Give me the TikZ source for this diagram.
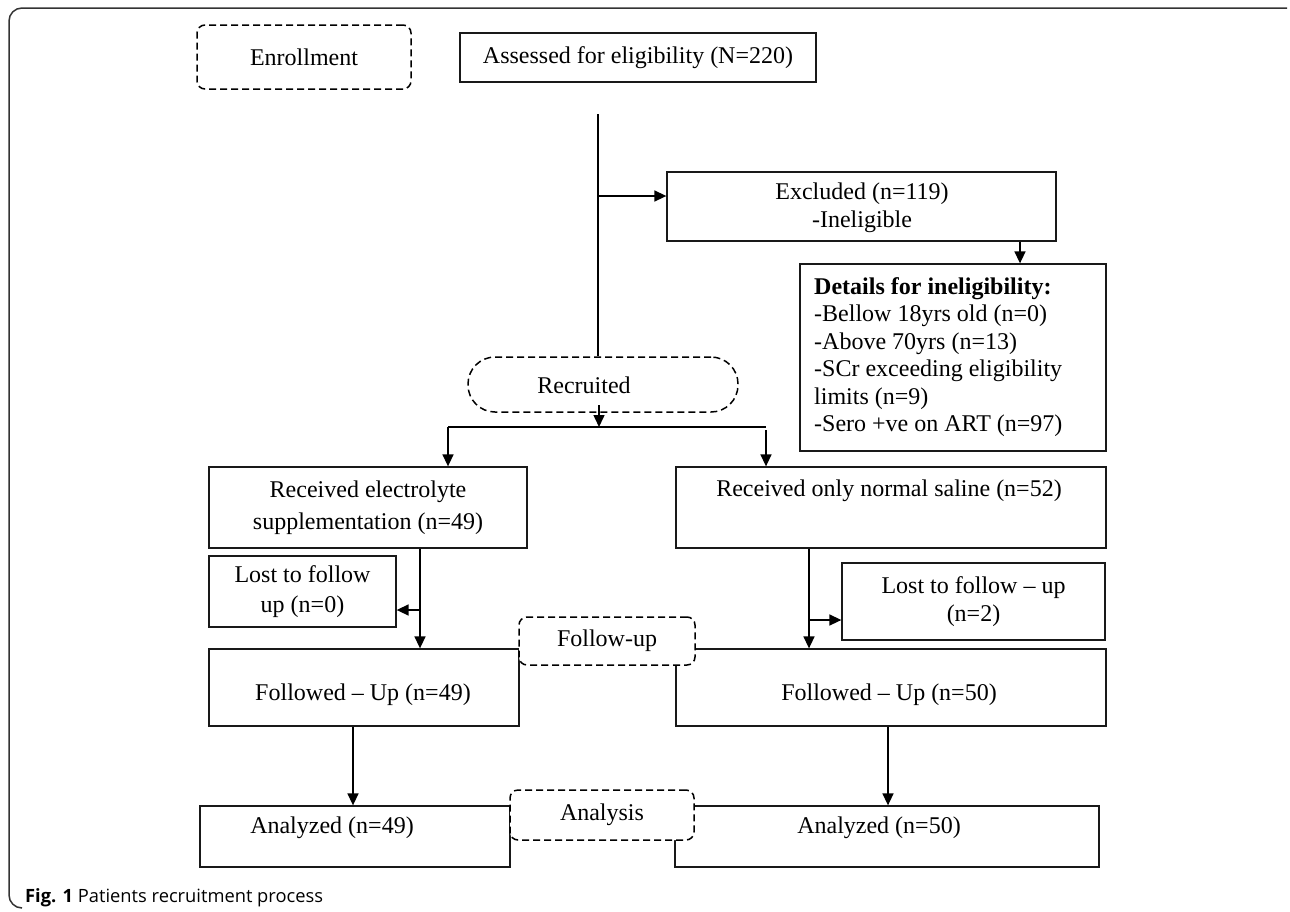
\documentclass[tikz,border=0pt]{standalone}
\usepackage{fontspec}
\setmainfont{Liberation Serif}
\newfontfamily\capfont{Open Sans}
\usetikzlibrary{arrows.meta,fit}
\begin{document}
\begin{tikzpicture}[x=1pt,y=-1pt,
  box/.style={draw=black!90, line width=1.3pt, inner sep=0pt},
  dbox/.style={draw=black, line width=1.5pt, dash pattern=on 7pt off 4pt, rounded corners=8pt, inner sep=0pt, fill=white},
  txt/.style={font=\fontsize{24}{28}\selectfont, inner sep=0pt, align=center},
  arr/.style={line width=1.5pt, draw=black, -{Triangle[length=12pt,width=11pt]}},
  con/.style={line width=1.5pt, draw=black}]
\useasboundingbox (0,0) rectangle (1290,911);
% frame
\draw[line width=1.5pt, black!80, rounded corners=13pt] (1287,8) -- (9,8) -- (9,908) -- (22,908);
% enrollment
\node[dbox, fit={(197,25) (411,89)}] (enr) {};
\node[txt] (enrt) at (enr.center) {Enrollment};
\node[box, fit={(460,33) (816,82)}] (ass) {};
\node[txt] (asst) at (ass.center) {Assessed for eligibility (N=220)};
% excluded
\node[box, fit={(667,172) (1056,241)}] (exc) {};
\node[txt] (exct) at (862,208) {Excluded (n=119)\\-Ineligible};
\node[box, fit={(800,264) (1106,451)}] (det) {};
\node[txt, align=left, anchor=west, font=\fontsize{24}{27.4}\selectfont] (dett) at (814,357)
  {\textbf{Details for ineligibility:}\\-Bellow 18yrs old (n=0)\\-Above 70yrs (n=13)\\-SCr exceeding eligibility\\limits (n=9)\\-Sero +ve on ART (n=97)};
% recruited
\node[dbox, rounded corners=27pt, fit={(468,357) (738,412)}] (rec) {};
\node[txt] (rect) at (584,385) {Recruited};
% allocation
\node[box, fit={(209,467) (527,548)}] (ele) {};
\node[txt, font=\fontsize{24}{32}\selectfont] (elet) at (ele.center) {Received electrolyte\\supplementation (n=49)};
\node[box, fit={(676,467) (1106,548)}] (sal) {};
\node[txt] (salt) at (889,491) {Received only normal saline (n=52)};
\node[box, fit={(209,556) (396,627)}] (ll) {};
\node[txt, font=\fontsize{24}{30}\selectfont] (llt) at (ll.center) {Lost to follow\\up (n=0)};
\node[box, fit={(842,563) (1105,640)}] (lr) {};
\node[txt] (lrt) at (lr.center) {Lost to follow – up\\(n=2)};
% follow-up
\node[box, fit={(209,649) (519,726)}] (fl) {};
\node[box, fit={(676,649) (1106,726)}] (fr) {};
\node[dbox, fit={(519,617) (695,665)}] (fu) {};
\node[txt] (fut) at (fu.center) {Follow-up};
\node[txt] (flt) at (363,695) {Followed – Up (n=49)};
\node[txt] (frt) at (889,695) {Followed – Up (n=50)};
% analysis
\node[box, fit={(200,806) (510,867)}] (al) {};
\node[box, fit={(675,806) (1099,867)}] (ar) {};
\node[dbox, fit={(510,790) (694,840)}] (an) {};
\node[txt] (ant) at (an.center) {Analysis};
\node[txt] (alt) at (332,828) {Analyzed (n=49)};
\node[txt] (art) at (879,828) {Analyzed (n=50)};
% caption
\node[anchor=base west, inner sep=0pt, font=\capfont\fontsize{18.3}{22}\selectfont] (cap) at (25,902)
  {\textbf{Fig. 1} Patients recruitment process};
% connectors
\coordinate (vtop) at (598,114);
\coordinate (vexc) at (598,196);
\draw[con] (vtop) -- (vtop |- rec.north);
\draw[arr] (vexc) -- (vexc -| exc.west);
\coordinate (xd) at (1020,0);
\draw[arr] (exc.south -| xd) -- (det.north -| xd);
\coordinate (rs) at (599,405);
\coordinate (split) at (599,427);
\draw[arr] (rs) -- (split);
\coordinate (sl) at (448,427);
\coordinate (sr) at (766,427);
\draw[con] (sl) -- (sr);
\draw[arr] (sl) -- (sl |- ele.north);
\draw[arr] ([yshift=-3pt]sr) -- (sr |- sal.north);
\coordinate (lv) at (420,0);
\draw[arr] (ele.south -| lv) -- (fl.north -| lv);
\coordinate (lb) at (420,610);
\draw[arr] (lb) -- (lb -| ll.east);
\coordinate (rv) at (809,0);
\draw[arr] (sal.south -| rv) -- (fr.north -| rv);
\coordinate (rb) at (809,620);
\draw[arr] (rb) -- (rb -| lr.west);
\coordinate (av1) at (353,0);
\coordinate (av2) at (888,0);
\draw[arr] (fl.south -| av1) -- (al.north -| av1);
\draw[arr] (fr.south -| av2) -- (ar.north -| av2);
\end{tikzpicture}
\end{document}
